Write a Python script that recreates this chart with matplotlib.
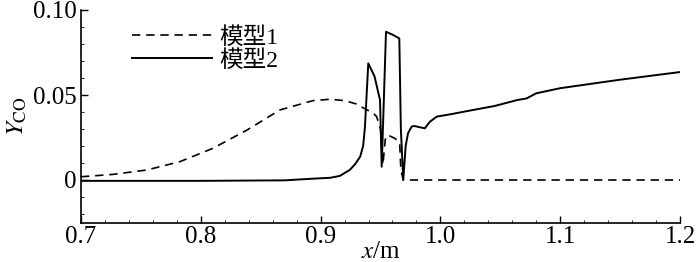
import matplotlib
matplotlib.use("Agg")
import matplotlib.pyplot as plt
from matplotlib.ticker import MultipleLocator, FixedLocator, FixedFormatter

plt.rcParams['font.family'] = ['Liberation Serif', 'Noto Sans CJK SC']
plt.rcParams['mathtext.fontset'] = 'stix'

# Model 1 (dashed)
x1 = [0.700, 0.7267, 0.755, 0.7826, 0.810, 0.8386, 0.866, 0.8937, 0.908, 0.920, 0.930,
      0.9354, 0.9437, 0.9468, 0.950, 0.952, 0.954, 0.956, 0.962, 0.966, 0.967, 0.969,
      1.000, 1.100, 1.200]
y1 = [0.0019, 0.0033, 0.0059, 0.0108, 0.0186, 0.0294, 0.0412, 0.0467, 0.0475, 0.0467, 0.0447,
      0.0425, 0.0395, 0.0373, 0.0300, 0.0090, 0.0240, 0.0265, 0.0245, 0.0218, 0.0060, 0.0000,
      0.0000, 0.0000, 0.0000]

# Model 2 (solid)
x2 = [0.700, 0.800, 0.870, 0.894, 0.908, 0.916, 0.9245, 0.929, 0.933, 0.9355, 0.937,
      0.9398, 0.945, 0.9496, 0.951, 0.9546, 0.960, 0.9657, 0.967, 0.969, 0.971, 0.973,
      0.976, 0.978, 0.983, 0.987, 0.9913, 0.997, 1.008, 1.022, 1.045, 1.064, 1.072,
      1.080, 1.100, 1.150, 1.200]
y2 = [-0.0005, -0.0005, -0.0002, 0.0008, 0.0013, 0.0024, 0.0060, 0.0095, 0.0137, 0.0200, 0.0310,
      0.0686, 0.0610, 0.0470, 0.0078, 0.0872, 0.0855, 0.0833, 0.0300, 0.0000, 0.0200, 0.0276,
      0.0314, 0.0318, 0.0310, 0.0304, 0.0343, 0.0373, 0.0386, 0.0405, 0.0435, 0.0470, 0.0480,
      0.0510, 0.0540, 0.0590, 0.0635]

labels = ['模型1', '模型2']
xticks = [0.7, 0.8, 0.9, 1.0, 1.1, 1.2]
xticklabels = ['0.7', '0.8', '0.9', '1.0', '1.1', '1.2']
yticks = [0.0, 0.05, 0.10]
yticklabels = ['0', '0.05', '0.10']

fig = plt.figure(figsize=(7.0, 2.62), dpi=100)
ax = fig.add_axes([81/700, (262-222.5)/262, (680-81)/700, (222.5-10)/262])

ax.plot(x1, y1, color='black', lw=1.2, dashes=(5, 3.5), label=labels[0])
ax.plot(x2, y2, color='black', lw=1.4, label=labels[1])

ax.set_xlim(0.7, 1.2)
ax.set_ylim(-0.025, 0.10)
ax.xaxis.set_major_locator(FixedLocator(xticks))
ax.xaxis.set_major_formatter(FixedFormatter(xticklabels))
ax.yaxis.set_major_locator(FixedLocator(yticks))
ax.yaxis.set_major_formatter(FixedFormatter(yticklabels))
ax.xaxis.set_minor_locator(MultipleLocator(0.02))
ax.yaxis.set_minor_locator(MultipleLocator(0.01))
ax.tick_params(which='both', direction='in', labelsize=18, width=1.0)
ax.tick_params(which='major', length=5)
ax.tick_params(which='minor', length=2.5, width=0.6)
ax.tick_params(axis='x', pad=2.5)
ax.tick_params(axis='y', pad=3)
ax.spines['top'].set_visible(False)
ax.spines['right'].set_visible(False)
ax.spines['left'].set_linewidth(1.2)
ax.spines['bottom'].set_linewidth(1.2)

ax.set_xlabel(r'$x$/m', fontsize=18, labelpad=-5)
ax.set_ylabel(r'$Y_{\mathrm{CO}}$', fontsize=18, labelpad=3)

leg = ax.legend(loc='upper left', bbox_to_anchor=(0.069, 0.965), frameon=False,
                fontsize=17, handlelength=3.4, handletextpad=0.3, labelspacing=0.05,
                borderaxespad=0)

fig.savefig('out.png', dpi=100)
